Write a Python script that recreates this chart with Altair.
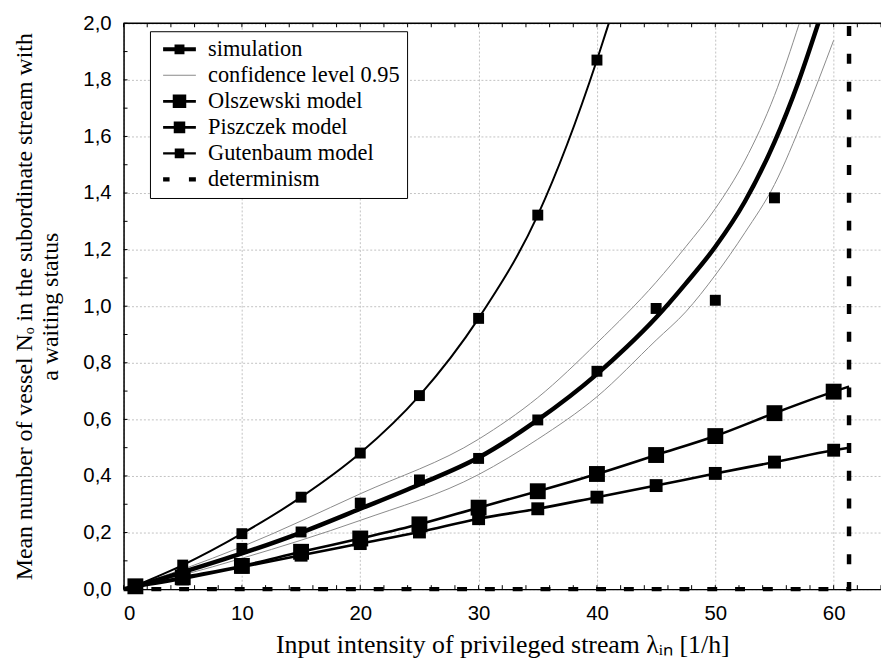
import altair as alt
import pandas as pd

# ---------------- values ----------------
model_x = [1, 5, 10, 15, 20, 25, 30, 35, 40, 45, 50, 55, 60]
olszewski_y = [0.010, 0.042, 0.082, 0.132, 0.179, 0.229, 0.288, 0.346, 0.407, 0.474, 0.541, 0.622, 0.698]
piszczek_y = [0.008, 0.036, 0.078, 0.120, 0.161, 0.202, 0.249, 0.284, 0.325, 0.366, 0.409, 0.449, 0.491]
model_end_x = 61.3
olszewski_end_y = 0.716
piszczek_end_y = 0.500

gut_x = [1, 5, 10, 15, 20, 25, 30, 35, 40]
gut_y = [0.012, 0.085, 0.196, 0.325, 0.481, 0.684, 0.957, 1.322, 1.870]
gut_exit_x = 41.0
gut_exit_y = 2.0

sim_x = [1, 5, 10, 15, 20, 25, 30, 35, 40, 45, 50, 55]
sim_y = [0.010, 0.058, 0.144, 0.202, 0.304, 0.386, 0.462, 0.598, 0.770, 0.992, 1.021, 1.383]

fit_x = [0, 1, 5, 10, 15, 20, 25, 30, 35, 40, 42.5, 45, 47.5, 50, 52.5, 55, 57, 58.7]
fit_y = [0, 0.010, 0.060, 0.126, 0.200, 0.284, 0.370, 0.465, 0.598, 0.760, 0.855, 0.960, 1.080, 1.210, 1.370, 1.580, 1.790, 2.000]

upper_x = [0, 5, 10, 20, 30, 35, 40, 45, 47.5, 50, 52.5, 55, 57.1]
upper_y = [0, 0.070, 0.150, 0.337, 0.530, 0.677, 0.870, 1.085, 1.210, 1.345, 1.515, 1.745, 2.000]

lower_x = [0, 5, 10, 20, 30, 35, 40, 45, 47.5, 50, 52.5, 55, 57.5, 60]
lower_y = [0, 0.050, 0.109, 0.243, 0.405, 0.530, 0.680, 0.880, 0.980, 1.110, 1.260, 1.430, 1.670, 1.940]

det_x = [0, 61.3, 61.3]
det_y = [0, 0, 2.0]

x_major = [0, 10, 20, 30, 40, 50, 60]
x_minor = list(range(0, 65, 2))
y_major = [0.0, 0.2, 0.4, 0.6, 0.8, 1.0, 1.2, 1.4, 1.6, 1.8, 2.0]
y_minor = [i / 10 for i in range(0, 21)]

legend_labels = ["simulation", "confidence level 0.95", "Olszewski model",
                 "Piszczek model", "Gutenbaum model", "determinism"]
legend_colors = ["black", "#8a8a8a", "black", "black", "black", "black"]

# ---------------- layout constants ----------------
W, H = 763, 570
SERIF = "Liberation Serif"
SANS = "Liberation Sans"

xs = alt.Scale(domain=[0, 64], nice=False, zero=False)
ys = alt.Scale(domain=[0, 2], nice=False, zero=False)


def df(x, y):
    return pd.DataFrame({"x": x, "y": y, "i": list(range(len(x)))})


x_axis = alt.Axis(
    values=x_major, grid=True, gridColor="#c2c2c2", gridDash=[2, 2], gridWidth=1,
    ticks=False, tickSize=0, domainColor="black", domainWidth=1.5,
    labelFont=SANS, labelFontSize=20.5, labelColor="black", labelPadding=15,
    title="Input intensity of privileged stream λᵢₙ [1/h]",
    titleFont=SERIF, titleFontSize=26, titleFontWeight="normal", titleColor="black",
    titlePadding=7,
)
y_axis = alt.Axis(
    values=y_major, grid=True, gridColor="#c2c2c2", gridDash=[2, 2], gridWidth=1,
    ticks=False, tickSize=0, domainColor="black", domainWidth=1.5,
    labelFont=SANS, labelFontSize=20.5, labelColor="black", labelPadding=12.5,
    labelExpr="replace(format(datum.value, '.1f'), '.', ',')",
    title=["Mean number of vessel Nₒ in the subordinate stream with", "a waiting status"],
    titleFont=SERIF, titleFontSize=24, titleFontWeight="normal", titleColor="black",
    titleLineHeight=26, titlePadding=21,
)


def enc():
    return dict(x=alt.X("x:Q", scale=xs, axis=x_axis), y=alt.Y("y:Q", scale=ys, axis=y_axis))


conf_up = alt.Chart(df(upper_x, upper_y)).mark_line(
    color="#8a8a8a", strokeWidth=1, interpolate="monotone", clip=True).encode(**enc())
conf_lo = alt.Chart(df(lower_x, lower_y)).mark_line(
    color="#8a8a8a", strokeWidth=1, interpolate="monotone", clip=True).encode(**enc())
fit = alt.Chart(df(fit_x, fit_y)).mark_line(
    color="black", strokeWidth=4.5, interpolate="monotone", clip=True).encode(**enc())

ol_line = alt.Chart(df(model_x + [model_end_x], olszewski_y + [olszewski_end_y])).mark_line(
    color="black", strokeWidth=2.6, interpolate="monotone").encode(**enc())
pi_line = alt.Chart(df(model_x + [model_end_x], piszczek_y + [piszczek_end_y])).mark_line(
    color="black", strokeWidth=2.6, interpolate="monotone").encode(**enc())
gu_line = alt.Chart(df(gut_x + [gut_exit_x], gut_y + [gut_exit_y])).mark_line(
    color="black", strokeWidth=2, interpolate="monotone", clip=True).encode(**enc())

ol_pts = alt.Chart(df(model_x, olszewski_y)).mark_square(
    color="black", size=256, opacity=1).encode(**enc())
pi_pts = alt.Chart(df(model_x, piszczek_y)).mark_square(
    color="black", size=169, opacity=1).encode(**enc())
gu_pts = alt.Chart(df(gut_x, gut_y)).mark_square(
    color="black", size=121, opacity=1).encode(**enc())
sim_pts = alt.Chart(df(sim_x, sim_y)).mark_square(
    color="black", size=121, opacity=1).encode(**enc())

det = alt.Chart(df(det_x, det_y)).mark_line(
    color="black", strokeWidth=4.5, strokeDash=[10, 18]
).encode(order="i:Q", **enc())

# frame: top border and inward ticks
top_border = alt.Chart(pd.DataFrame({"v": [0]})).mark_rule(color="black", strokeWidth=1.5).encode(
    x=alt.value(0), x2=alt.value(W), y=alt.value(0))
tick_df_x = pd.DataFrame({"x": x_minor})
tick_df_y = pd.DataFrame({"y": y_minor})
ticks_bottom = alt.Chart(tick_df_x).mark_rule(color="black", strokeWidth=1).encode(
    x=alt.X("x:Q", scale=xs, axis=x_axis), y=alt.value(H), y2=alt.value(H - 4))
ticks_top = alt.Chart(tick_df_x).mark_rule(color="black", strokeWidth=1).encode(
    x=alt.X("x:Q", scale=xs, axis=x_axis), y=alt.value(0), y2=alt.value(4))
ticks_left = alt.Chart(tick_df_y).mark_rule(color="black", strokeWidth=1).encode(
    y=alt.Y("y:Q", scale=ys, axis=y_axis), x=alt.value(0), x2=alt.value(4))


# legend symbols: line + marker drawn as custom filled paths (unit = 10 px)
def seg(x0, x1, h):
    return f"M{x0},{-h}H{x1}V{h}H{x0}Z"


def sq(c, s):
    return f"M{c - s},{-s}H{c + s}V{s}H{c - s}Z"


L0, L1, LC = -0.5, 2.8, 1.15
legend_paths = [
    seg(L0, L1, 0.2) + sq(LC, 0.5),
    seg(L0, L1, 0.05),
    seg(L0, L1, 0.13) + sq(LC, 0.68),
    seg(L0, L1, 0.13) + sq(LC, 0.58),
    seg(L0, L1, 0.11) + sq(LC, 0.48),
    seg(L0, L0 + 0.65, 0.22) + seg(L1 - 0.7, L1, 0.22),
]

leg = alt.Legend(
    title=None, orient="none", legendX=26.6, legendY=8, direction="vertical",
    labelFont=SERIF, labelFontSize=22.5, labelColor="black", labelLimit=0, labelOffset=29,
    symbolSize=400, symbolStrokeWidth=0, symbolOpacity=1, rowPadding=3.2, padding=7,
    strokeColor="black", fillColor="white",
)
legend_layer = alt.Chart(pd.DataFrame({"series": legend_labels})).mark_point(
    filled=True, opacity=1
).encode(
    shape=alt.Shape("series:N", scale=alt.Scale(domain=legend_labels, range=legend_paths), legend=leg, sort=legend_labels),
    color=alt.Color("series:N", scale=alt.Scale(domain=legend_labels, range=legend_colors), legend=leg, sort=legend_labels),
).transform_filter("false")

chart = alt.layer(
    conf_up, conf_lo, fit, ol_line, pi_line, gu_line,
    ol_pts, pi_pts, gu_pts, sim_pts, det,
    ticks_bottom, ticks_top, ticks_left, top_border, legend_layer,
).properties(
    width=W, height=H,
    padding={"left": 116.4, "top": 13, "right": 0, "bottom": 70},
    autosize=alt.AutoSizeParams(type="none"),
).configure_view(stroke=None).configure(background="white")

chart.save("out.html", embed_options={"renderer": "svg", "actions": False})
